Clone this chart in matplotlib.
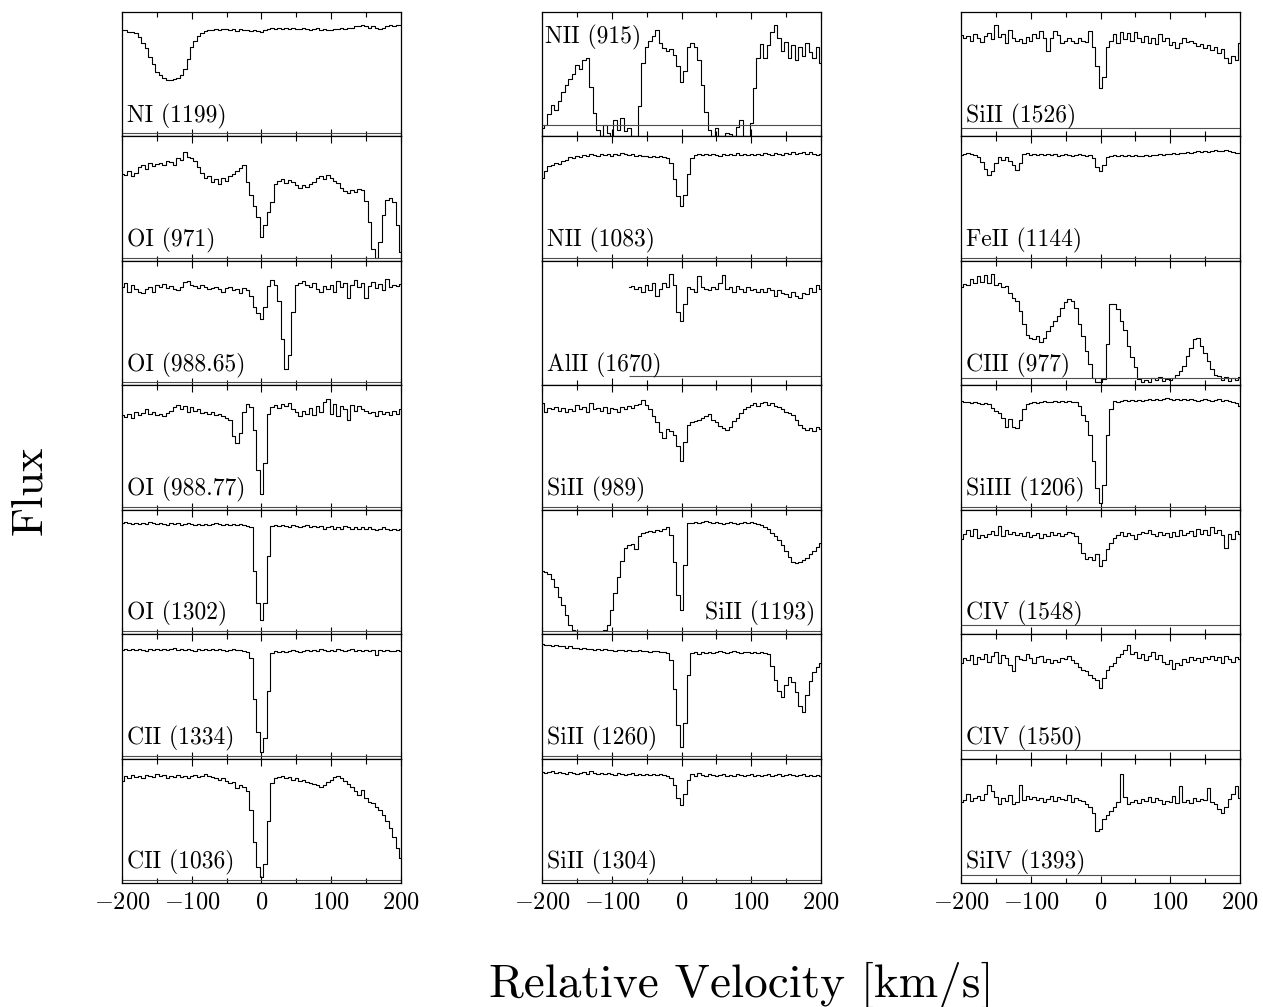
import numpy as np
import matplotlib
matplotlib.use('Agg')
import matplotlib.pyplot as plt
from matplotlib.ticker import MultipleLocator

plt.rcParams['mathtext.fontset'] = 'cm'
plt.rcParams['font.family'] = ['cmr10', 'DejaVu Serif']

# velocity grid (km/s), flux in percent of continuum
vel = np.arange(-200, 201, 5)

ni_1199 = [96, 96, 94, 94, 93, 89, 84, 79, 71, 64,
           57, 54, 51, 49, 49, 50, 51, 54, 60, 69,
           80, 86, 90, 93, 95, 96, 96, 97, 96, 97,
           97, 96, 97, 95, 97, 96, 96, 95, 96, 95,
           94, 96, 97, 98, 97, 98, 97, 98, 97, 98,
           97, 97, 98, 97, 96, 97, 98, 96, 97, 96,
           96, 97, 97, 98, 97, 98, 98, 99, 99, 100,
           99, 98, 99, 98, 97, 98, 99, 100, 99, 100,
           100]
oi_971 = [78, 77, 80, 76, 79, 84, 86, 82, 88, 85,
          87, 88, 86, 90, 89, 86, 92, 91, 98, 93,
          92, 90, 84, 79, 74, 76, 70, 73, 68, 74,
          71, 76, 78, 80, 83, 86, 70, 58, 48, 38,
          19, 30, 42, 52, 68, 71, 73, 69, 72, 70,
          67, 65, 67, 66, 68, 70, 74, 76, 73, 77,
          74, 71, 69, 65, 62, 60, 63, 61, 64, 63,
          53, 33, 8, 0, 15, 40, 54, 55, 52, 30,
          5]
oi_98865 = [88, 92, 84, 90, 86, 84, 83, 86, 88, 84,
            90, 88, 91, 87, 89, 86, 85, 88, 93, 94,
            90, 89, 87, 90, 88, 86, 87, 88, 86, 84,
            87, 88, 85, 86, 83, 87, 85, 80, 70, 64,
            59, 70, 89, 95, 90, 75, 40, 12, 25, 65,
            90, 92, 94, 90, 88, 92, 86, 84, 89, 86,
            90, 84, 94, 88, 92, 78, 90, 95, 88, 92,
            78, 89, 93, 87, 91, 85, 96, 88, 90, 89,
            91]
oi_98877 = [85, 83, 86, 82, 88, 85, 87, 90, 86, 88,
            85, 86, 84, 87, 89, 92, 94, 90, 93, 88,
            92, 89, 90, 87, 88, 86, 88, 85, 86, 84,
            82, 80, 65, 59, 68, 88, 95, 92, 71, 34,
            12, 40, 86, 92, 94, 91, 95, 93, 96, 90,
            88, 84, 89, 86, 91, 85, 93, 88, 97, 100,
            86, 95, 84, 93, 90, 80, 94, 89, 93, 90,
            89, 87, 88, 84, 89, 86, 88, 85, 89, 86,
            90]
oi_1302 = [100, 101, 100, 99, 100, 99, 100, 99, 101, 100,
           99, 100, 99, 98, 100, 99, 100, 98, 99, 100,
           99, 98, 99, 98, 99, 98, 99, 100, 99, 98,
           99, 98, 99, 98, 99, 98, 97, 96, 56, 26,
           10, 26, 70, 97, 98, 97, 98, 97, 96, 98,
           97, 96, 97, 98, 96, 97, 96, 97, 95, 96,
           97, 95, 96, 95, 97, 96, 95, 96, 95, 96,
           95, 96, 95, 94, 95, 96, 95, 94, 95, 94,
           95]
cii_1334 = [98, 99, 98, 99, 98, 99, 98, 97, 99, 98,
            99, 98, 99, 98, 99, 100, 98, 99, 98, 99,
            98, 97, 99, 98, 99, 98, 99, 98, 99, 98,
            97, 98, 99, 98, 98, 97, 96, 90, 52, 22,
            3, 16, 60, 95, 97, 96, 97, 96, 97, 98,
            97, 96, 97, 98, 97, 98, 97, 99, 98, 97,
            98, 97, 99, 98, 97, 98, 99, 97, 98, 97,
            98, 97, 98, 93, 98, 97, 98, 97, 97, 98,
            97]
cii_1036 = [92, 96, 94, 97, 95, 96, 94, 97, 96, 95,
            98, 96, 97, 94, 96, 95, 97, 95, 96, 94,
            96, 97, 95, 96, 98, 96, 95, 94, 93, 94,
            92, 90, 91, 85, 88, 86, 82, 65, 35, 12,
            3, 15, 55, 90, 94, 95, 96, 94, 95, 93,
            94, 92, 93, 91, 90, 89, 88, 86, 88, 91,
            93, 95, 96, 94, 92, 89, 86, 82, 79, 83,
            76, 72, 71, 68, 65, 60, 55, 48, 40, 30,
            20]
nii_915 = [5, 8, 18, 26, 22, 30, 38, 45, 50, 55,
           63, 60, 68, 70, 43, 19, 3, -2, 8, 0,
           -3, 12, 3, 14, 2, 5, -2, -3, 25, 65,
           80, 86, 90, 96, 84, 79, 76, 78, 73, 62,
           48, 58, 80, 84, 80, 68, 45, 20, 3, -2,
           5, -2, -2, 0, -1, -2, 6, 12, -2, -3,
           10, 42, 70, 83, 70, 82, 94, 100, 88, 76,
           85, 70, 82, 68, 80, 72, 84, 75, 70, 80,
           65]
nii_1083 = [74, 80, 85, 86, 88, 87, 90, 91, 93, 92,
            94, 93, 95, 94, 96, 95, 94, 96, 95, 96,
            94, 96, 95, 97, 96, 95, 96, 94, 95, 94,
            94, 93, 94, 93, 94, 93, 92, 88, 73, 57,
            48, 58, 78, 92, 95, 96, 95, 96, 95, 96,
            95, 94, 96, 95, 96, 95, 97, 95, 96, 95,
            96, 95, 96, 95, 97, 96, 95, 97, 96, 95,
            97, 96, 98, 96, 97, 98, 96, 98, 96, 95,
            96]
# AlII only covers -75 .. 200 km/s
alii_1670 = [88, 89, 86, 88, 84, 90, 85, 92, 80, 86,
             92, 88, 100, 90, 65, 57, 72, 88, 86, 84,
             98, 88, 86, 85, 88, 86, 92, 99, 86, 88,
             84, 89, 86, 84, 88, 85, 86, 84, 86, 84,
             87, 85, 80, 85, 83, 82, 79, 84, 80, 78,
             83, 82, 87, 84, 90, 86]
sii_989 = [96, 88, 91, 90, 92, 89, 91, 88, 90, 89,
           94, 90, 92, 88, 96, 90, 91, 89, 92, 87,
           91, 90, 88, 92, 90, 93, 91, 94, 95, 99,
           94, 90, 84, 78, 69, 64, 72, 70, 66, 56,
           42, 60, 76, 78, 79, 80, 82, 84, 86, 80,
           78, 75, 73, 71, 74, 79, 82, 87, 90, 92,
           94, 96, 93, 96, 97, 94, 96, 93, 92, 90,
           88, 87, 85, 80, 76, 73, 71, 73, 70, 74,
           72]
sii_1193 = [56, 55, 53, 48, 41, 32, 24, 15, 6, 1,
            0, 0, 0, 0, 0, 0, 0, 0, 1, 6,
            20, 35, 50, 65, 77, 80, 81, 76, 88, 91,
            92, 93, 92, 94, 93, 95, 96, 89, 64, 33,
            20, 61, 100, 100, 101, 100, 101, 102, 101, 100,
            101, 100, 99, 100, 101, 100, 99, 100, 101, 100,
            101, 100, 99, 98, 96, 95, 91, 88, 84, 80,
            74, 69, 64, 63, 64, 66, 68, 71, 74, 78,
            82]
sii_1260 = [103, 102, 102, 101, 102, 101, 101, 100, 101, 100,
            100, 99, 100, 99, 99, 98, 99, 98, 99, 98,
            98, 97, 98, 98, 97, 98, 97, 97, 98, 97,
            97, 96, 97, 97, 96, 96, 95, 88, 62, 28,
            8, 30, 75, 95, 96, 94, 96, 95, 96, 95,
            96, 97, 96, 95, 96, 97, 96, 95, 96, 96,
            95, 96, 95, 96, 95, 94, 83, 70, 60, 54,
            65, 73, 68, 59, 46, 40, 56, 69, 77, 82,
            86]
sii_1304 = [100, 99, 100, 101, 99, 100, 99, 98, 100, 99,
            98, 99, 100, 98, 101, 99, 98, 99, 98, 99,
            98, 97, 99, 98, 97, 98, 99, 97, 98, 97,
            98, 97, 98, 97, 98, 97, 96, 94, 88, 76,
            69, 80, 93, 98, 96, 99, 97, 96, 98, 97,
            96, 97, 98, 96, 97, 96, 98, 97, 96, 97,
            98, 96, 97, 96, 97, 98, 96, 97, 98, 96,
            97, 98, 97, 96, 97, 98, 96, 97, 96, 97,
            96]
sii_1526 = [91, 88, 90, 86, 92, 88, 85, 90, 93, 87,
            100, 89, 92, 84, 96, 88, 86, 87, 84, 89,
            86, 92, 88, 95, 88, 76, 88, 95, 91, 84,
            86, 88, 86, 84, 88, 86, 85, 95, 80, 62,
            42, 52, 80, 86, 92, 84, 94, 87, 93, 86,
            94, 88, 85, 90, 84, 88, 83, 92, 86, 88,
            82, 85, 79, 84, 88, 85, 86, 84, 81, 83,
            79, 82, 77, 80, 74, 78, 70, 65, 72, 68,
            84]
feii_1144 = [95, 96, 97, 96, 95, 93, 89, 82, 77, 80,
             88, 93, 91, 93, 90, 86, 81, 88, 96, 97,
             95, 96, 95, 96, 95, 96, 95, 96, 94, 95,
             96, 95, 94, 95, 96, 95, 94, 95, 92, 84,
             80, 86, 93, 94, 95, 94, 95, 94, 95, 94,
             95, 94, 94, 95, 94, 95, 95, 96, 95, 96,
             96, 97, 96, 97, 97, 98, 97, 98, 99, 98,
             99, 98, 99, 100, 99, 99, 100, 99, 98, 97,
             97]
ciii_977 = [88, 91, 90, 96, 92, 98, 93, 99, 92, 100,
            90, 92, 88, 89, 83, 78, 75, 66, 54, 44,
            41, 40, 43, 37, 41, 47, 52, 57, 61, 69,
            74, 77, 75, 69, 54, 43, 29, 17, 4, 0,
            0, 3, 35, 72, 72, 68, 57, 48, 34, 23,
            14, 3, 0, 2, 0, 4, 2, 5, 1, 3,
            2, 4, 7, 10, 15, 24, 32, 40, 41, 34,
            27, 20, 12, 7, 6, 2, 5, 1, 4, 2,
            5]
siiii_1206 = [98, 97, 97, 96, 97, 96, 95, 96, 95, 91,
              89, 87, 82, 74, 81, 74, 73, 80, 90, 95,
              96, 97, 96, 97, 98, 97, 97, 98, 97, 98,
              97, 98, 97, 97, 93, 85, 79, 66, 42, 17,
              3, 20, 66, 90, 98, 97, 98, 99, 98, 99,
              98, 99, 98, 99, 100, 99, 100, 99, 100, 101,
              100, 99, 100, 99, 100, 99, 100, 99, 98, 99,
              100, 99, 98, 99, 100, 98, 99, 98, 97, 96,
              93]
civ_1548 = [85, 90, 94, 88, 95, 86, 89, 87, 90, 93,
            89, 97, 88, 94, 90, 92, 89, 91, 88, 92,
            87, 89, 91, 86, 90, 88, 92, 89, 91, 88,
            90, 92, 91, 88, 82, 72, 67, 69, 66, 71,
            60, 66, 76, 82, 86, 89, 92, 88, 91, 89,
            85, 90, 92, 91, 94, 90, 88, 92, 89, 91,
            87, 92, 88, 94, 89, 91, 93, 88, 95, 90,
            94, 89, 96, 91, 94, 89, 77, 90, 85, 93,
            90]
civ_1550 = [86, 90, 88, 93, 85, 91, 89, 94, 87, 92,
            96, 86, 93, 90, 84, 78, 92, 89, 88, 94,
            90, 86, 91, 92, 87, 89, 86, 88, 87, 90,
            89, 92, 88, 86, 82, 79, 78, 75, 72, 70,
            63, 72, 79, 83, 86, 91, 94, 98, 102, 94,
            96, 90, 94, 88, 92, 96, 89, 93, 87, 85,
            88, 80, 86, 84, 89, 87, 91, 88, 90, 87,
            91, 89, 92, 88, 91, 86, 92, 89, 87, 91,
            89]
siiv_1393 = [72, 74, 80, 73, 76, 78, 74, 80, 88, 82,
             77, 70, 76, 73, 79, 70, 72, 88, 74, 78,
             75, 77, 74, 76, 72, 75, 78, 73, 77, 75,
             74, 79, 72, 76, 74, 73, 70, 68, 62, 45,
             47, 56, 60, 64, 68, 72, 98, 77, 70, 72,
             74, 71, 75, 73, 77, 72, 76, 74, 70, 73,
             72, 78, 71, 87, 72, 74, 71, 76, 73, 75,
             74, 85, 72, 70, 66, 62, 68, 75, 80, 87,
             76]

# (label, flux, first velocity, error level)
col1 = [('NI (1199)', ni_1199, -200, 0.0),
        ('OI (971)', oi_971, -200, 0.0),
        ('OI (988.65)', oi_98865, -200, 0.0),
        ('OI (988.77)', oi_98877, -200, 0.0),
        ('OI (1302)', oi_1302, -200, 0.0),
        ('CII (1334)', cii_1334, -200, 0.0),
        ('CII (1036)', cii_1036, -200, 0.0)]
col2 = [('NII (915)', nii_915, -200, 0.08),
        ('NII (1083)', nii_1083, -200, 0.0),
        ('AlII (1670)', alii_1670, -75, 0.06),
        ('SiII (989)', sii_989, -200, 0.0),
        ('SiII (1193)', sii_1193, -200, 0.0),
        ('SiII (1260)', sii_1260, -200, 0.0),
        ('SiII (1304)', sii_1304, -200, 0.0)]
col3 = [('SiII (1526)', sii_1526, -200, 0.05),
        ('FeII (1144)', feii_1144, -200, 0.0),
        ('CIII (977)', ciii_977, -200, 0.04),
        ('SiIII (1206)', siiii_1206, -200, 0.0),
        ('CIV (1548)', civ_1548, -200, 0.055),
        ('CIV (1550)', civ_1550, -200, 0.055),
        ('SiIV (1393)', siiv_1393, -200, 0.05)]
columns = [col1, col2, col3]

W, H = 1263, 1007
fig = plt.figure(figsize=(W / 100, H / 100), dpi=100)

col_left = [122, 542, 961]
col_w = 279
top, bot = 12, 883
row_h = (bot - top) / 7

for c, panels in enumerate(columns):
    for r, (label, flux, v0, err) in enumerate(panels):
        y0 = H - (top + (r + 1) * row_h)
        ax = fig.add_axes([col_left[c] / W, y0 / H, col_w / W, row_h / H])
        v = vel[vel >= v0]
        ax.plot(v, np.array(flux) / 100.0, drawstyle='steps-mid', color='k', lw=0.8)
        ax.hlines(err, v0, 200, color='0.3', lw=0.8)
        ax.set_xlim(-200, 200)
        ax.set_ylim(-0.028, 1.124)
        ax.set_yticks([])
        ax.xaxis.set_major_locator(MultipleLocator(100))
        ax.xaxis.set_minor_locator(MultipleLocator(50))
        ax.tick_params(axis='x', which='both', direction='in', top=True, bottom=True, width=0.8)
        ax.tick_params(axis='x', which='major', length=5)
        ax.tick_params(axis='x', which='minor', length=3.5)
        for s in ax.spines.values():
            s.set_linewidth(0.9)
        if r == 6:
            ax.set_xticks([-200, -100, 0, 100, 200])
            ax.set_xticklabels([r'$-200$', r'$-100$', r'$0$', r'$100$', r'$200$'], fontsize=17.5)
            ax.tick_params(axis='x', which='major', pad=6)
        else:
            ax.tick_params(axis='x', labelbottom=False)

        if label == 'NII (915)':
            ax.text(0.012, 0.75, label, transform=ax.transAxes, fontsize=17, va='baseline', ha='left')
        elif label == 'SiII (1193)':
            ax.text(0.98, 0.115, label, transform=ax.transAxes, fontsize=17, va='baseline', ha='right')
        else:
            ax.text(0.018, 0.115, label, transform=ax.transAxes, fontsize=17, va='baseline', ha='left')

fig.text(30 / W, 1 - 490 / H, 'Flux', rotation=90, fontsize=32, ha='center', va='center')
fig.text(741 / W, 1 - 985 / H, 'Relative Velocity [km/s]', fontsize=34, ha='center', va='center')

fig.savefig('out.png', dpi=100)
